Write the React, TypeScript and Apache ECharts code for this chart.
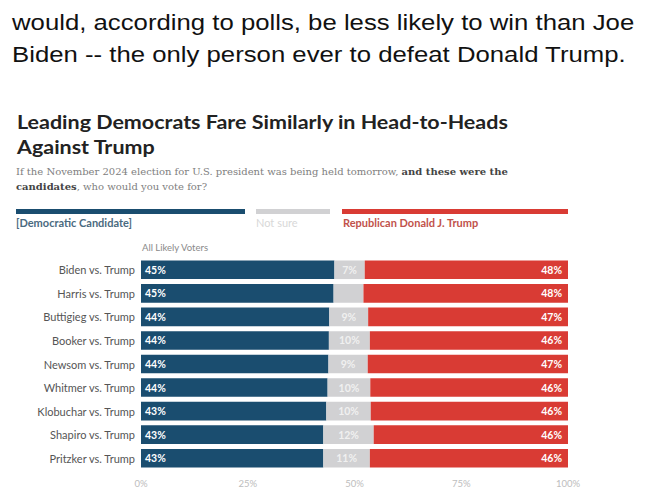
import React, { useEffect, useRef } from "react";
import * as echarts from "echarts";

const categories = [
  "Biden vs. Trump",
  "Harris vs. Trump",
  "Buttigieg vs. Trump",
  "Booker vs. Trump",
  "Newsom vs. Trump",
  "Whitmer vs. Trump",
  "Klobuchar vs. Trump",
  "Shapiro vs. Trump",
  "Pritzker vs. Trump",
];
const democratic = [45.3, 45.1, 44.1, 44.0, 43.9, 43.7, 43.4, 42.7, 42.7];
const notSure = [7.1, 7.0, 9.1, 9.6, 9.2, 10.0, 10.4, 11.8, 10.9];
const republican = [47.6, 47.9, 46.8, 46.4, 46.9, 46.3, 46.2, 45.5, 46.4];
const notSureUnlabeled = ["Harris vs. Trump"];
const xTicks = [0, 25, 50, 75, 100];

const BLUE = "#1a4d6f";
const GRAY = "#d1d1d3";
const RED = "#d93b34";

export default function App() {
  const ref = useRef<HTMLDivElement>(null);
  useEffect(() => {
    if (!ref.current) return;
    const chart = echarts.init(ref.current, null, { renderer: "svg" });
    const pct = (p: any) => Math.round(p.value) + "%";
    const font = "Lato";
    chart.setOption({
      animation: false,
      backgroundColor: "#ffffff",
      grid: { left: 141, right: 82, top: 258, bottom: 18, containLabel: false },
      xAxis: {
        type: "value",
        min: xTicks[0],
        max: xTicks[xTicks.length - 1],
        interval: 25,
        axisLabel: { formatter: "{value}%", color: "#bdbdbd", fontSize: 9.5, fontFamily: font, margin: 8 },
        axisLine: { show: false },
        axisTick: { show: false },
        splitLine: { show: false },
      },
      yAxis: {
        type: "category",
        inverse: true,
        data: categories,
        axisLabel: { color: "#555", fontSize: 11, fontFamily: font, margin: 6 },
        axisLine: { show: false },
        axisTick: { show: false },
      },
      series: [
        {
          type: "bar",
          stack: "total",
          data: democratic,
          barCategoryGap: "21%",
          itemStyle: { color: BLUE },
          label: { show: true, position: "insideLeft", distance: 4, formatter: pct, color: "#fff", fontWeight: "bold", fontSize: 10.5, fontFamily: font },
        },
        {
          type: "bar",
          stack: "total",
          data: notSure.map((v, i) =>
            notSureUnlabeled.includes(categories[i]) ? { value: v, label: { show: false } } : v
          ),
          itemStyle: { color: GRAY },
          label: { show: true, position: "inside", formatter: pct, color: "#f0f0f0", fontWeight: "bold", fontSize: 10.5, fontFamily: font },
        },
        {
          type: "bar",
          stack: "total",
          data: republican,
          itemStyle: { color: RED },
          label: { show: true, position: "insideRight", distance: 6, formatter: pct, color: "#fff", fontWeight: "bold", fontSize: 10.5, fontFamily: font },
        },
      ],
      graphic: [
        {
          type: "text",
          x: 12,
          y: 6,
          scaleX: 1.17,
          style: {
            text: "would, according to polls, be less likely to win than Joe\nBiden -- the only person ever to defeat Donald Trump.",
            fontFamily: "Liberation Sans",
            fontSize: 22,
            lineHeight: 32,
            fill: "#111",
          },
        },
        {
          type: "text",
          x: 17,
          y: 109,
          scaleX: 1.13,
          style: {
            text: "Leading Democrats Fare Similarly in Head-to-Heads\nAgainst Trump",
            fontFamily: font,
            fontWeight: "bold",
            fontSize: 19,
            lineHeight: 25,
            fill: "#222",
          },
        },
        {
          type: "text",
          left: 16,
          top: 164,
          style: {
            text: "If the November 2024 election for U.S. president was being held tomorrow, {b|and these were the}\n{b|candidates}, who would you vote for?",
            fontFamily: "DejaVu Serif",
            fontSize: 10,
            lineHeight: 15,
            fill: "#808080",
            rich: {
              b: { fontFamily: "DejaVu Serif", fontSize: 10, fontWeight: "bold", fill: "#444", lineHeight: 15 },
            },
          },
        },
        { type: "rect", shape: { x: 16, y: 209, width: 229, height: 5 }, style: { fill: BLUE } },
        { type: "rect", shape: { x: 256, y: 209, width: 74, height: 5 }, style: { fill: GRAY } },
        { type: "rect", shape: { x: 342, y: 209, width: 226, height: 5 }, style: { fill: RED } },
        {
          type: "text",
          left: 16,
          top: 217,
          style: { text: "[Democratic Candidate]", fontFamily: font, fontWeight: "bold", fontSize: 11, fill: "#4a6a80" },
        },
        {
          type: "text",
          left: 256,
          top: 217,
          style: { text: "Not sure", fontFamily: font, fontSize: 11, fill: "#d8d8d8" },
        },
        {
          type: "text",
          left: 343,
          top: 217,
          style: { text: "Republican Donald J. Trump", fontFamily: font, fontWeight: "bold", fontSize: 11, fill: "#c1524b" },
        },
        {
          type: "text",
          left: 142,
          top: 242,
          style: { text: "All Likely Voters", fontFamily: font, fontSize: 9.5, fill: "#8a8a8a" },
        },
      ],
    });
    return () => chart.dispose();
  }, []);
  return (
    <div
      ref={ref}
      style={{ position: "absolute", left: 0, top: 0, width: 650, height: 488, background: "#fff" }}
    />
  );
}
